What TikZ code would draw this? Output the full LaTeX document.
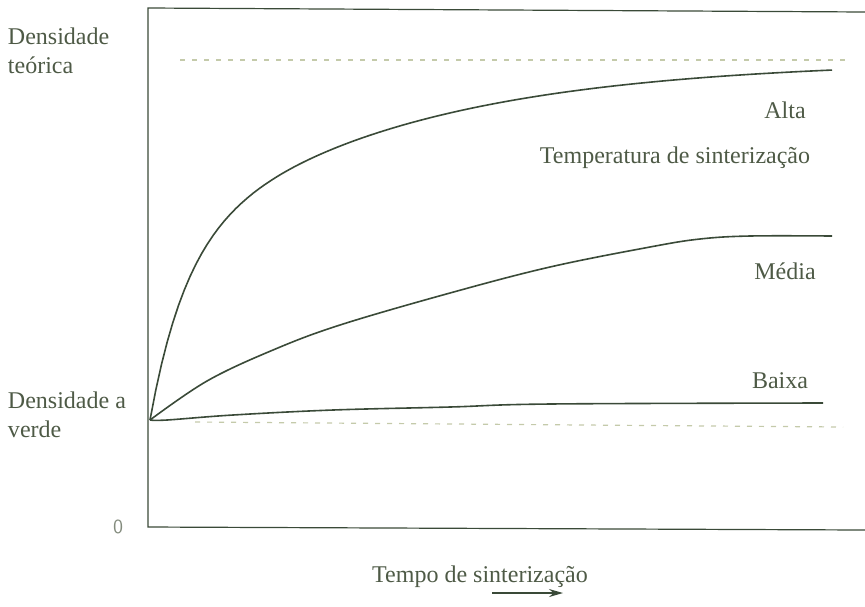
\documentclass[tikz,border=0pt]{standalone}
\usepackage{fontspec}
\setmainfont{Liberation Serif}
\usetikzlibrary{arrows.meta}
\definecolor{ink}{RGB}{58,74,56}
\definecolor{txt}{RGB}{78,90,70}
\definecolor{dashc}{RGB}{196,202,170}

\begin{document}
\begin{tikzpicture}[x=0.5pt,y=-0.5pt,
    every node/.style={inner sep=0pt, outer sep=0pt, text=txt, font=\fontsize{12}{14.5}\selectfont},
    axis/.style={draw=ink, line width=0.6pt},
    curve/.style={draw=ink, line width=0.8pt},
    guide/.style={draw=dashc, line width=0.6pt, dash pattern=on 2.5pt off 3.5pt}]
    \useasboundingbox (0,0) rectangle (865,606);
    % frame
    \coordinate (tl) at (148,8);
    \coordinate (tr) at (865,12);
    \coordinate (bl) at (148,527);
    \coordinate (br) at (865,530);
    \coordinate (o) at (150,420);
    \draw[axis] (tr) -- (tl) -- (bl) -- (br);
    % guides
    \draw[guide] (180,60) -- (847,60);
    \draw[guide] (195,422) -- (843,427);
    % curves
    \draw[curve] (o) -- plot[domain=0:682, samples=120] ({150+\x}, {420-165*(1-exp(-\x/35))-195*(1-exp(-\x/230))});
    \draw[curve] plot[smooth, tension=0.6] coordinates {(o) (207,381) (273,350) (340,325) (450,293) (550,267) (650,247) (700,239) (750,236) (832,236)};
    \draw[curve] plot[smooth, tension=0.6] coordinates {(o) (167,420) (233,415) (333,410) (450,407) (550,404) (823,403)};
    % labels
    \node[anchor=west, align=left] (dteo) at (8,51) {Densidade\\teórica};
    \node[anchor=west, align=left] (dverde) at (8,415) {Densidade a\\verde};
    \node[font=\sffamily\fontsize{10}{12}\selectfont, text=txt!70] (zero) at (118,527) {0};
    \node (alta) at (785,110) {Alta};
    \node (temp) at (675,158) {Temperatura de sinterização};
    \node (media) at (785,271) {Média};
    \node (baixa) at (780,381) {Baixa};
    \node (tempo) at (480,577) {Tempo de sinterização};
    \coordinate (ta) at (492,593);
    \coordinate (tb) at (563,593);
    \draw[ink, line width=0.6pt, -{Stealth[length=7pt, width=4pt]}] (ta) -- (tb);
\end{tikzpicture}
\end{document}
